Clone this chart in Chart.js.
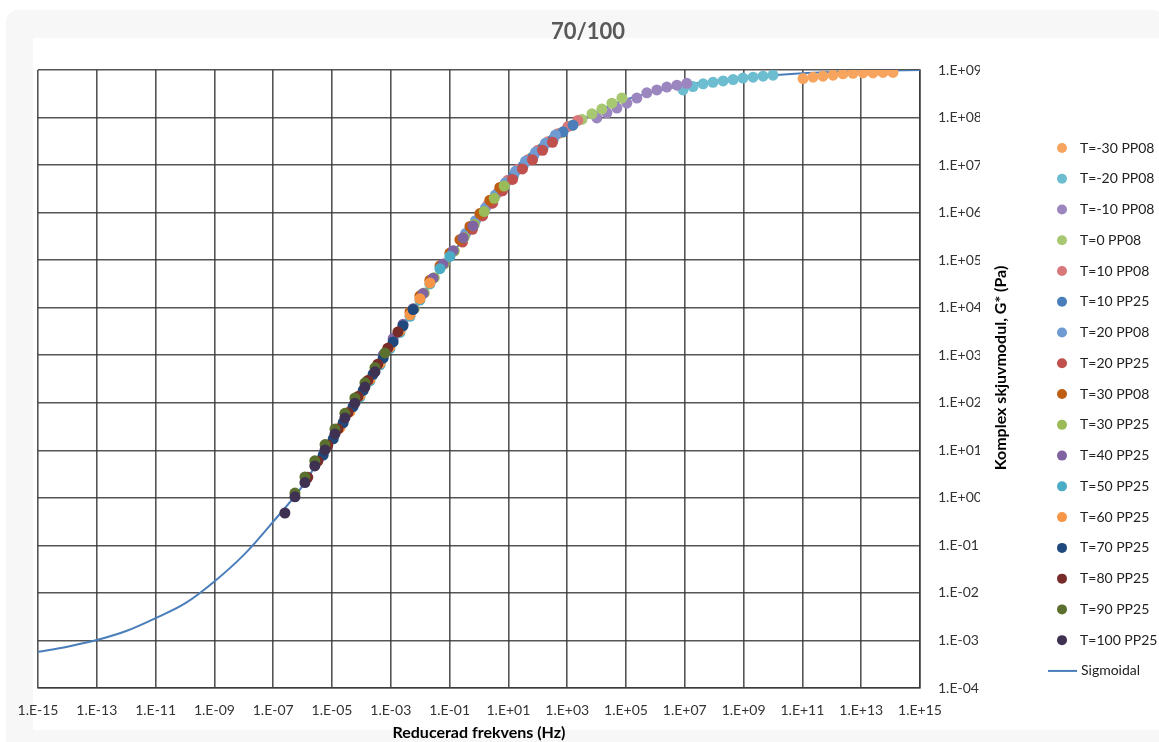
<!DOCTYPE html>
<html>
<head>
<meta charset="utf-8">
<script src="https://cdn.jsdelivr.net/npm/chart.js@4.4.1/dist/chart.umd.min.js"></script>
<style>
html, body { margin: 0; padding: 0; background: #fff; }
#wrap { width: 1159px; height: 742px; }
</style>
</head>
<body>
<div id="wrap"><canvas id="myChart" width="1159" height="742"></canvas></div>
<script>
// Axis ticks (every second decade on x, every decade on y)
var xTicks = [1e-15, 1e-13, 1e-11, 1e-9, 1e-7, 1e-5, 1e-3, 1e-1, 1e1, 1e3, 1e5, 1e7, 1e9, 1e11, 1e13, 1e15];
var xTickLabels = ['1.E-15', '1.E-13', '1.E-11', '1.E-09', '1.E-07', '1.E-05', '1.E-03', '1.E-01',
                   '1.E+01', '1.E+03', '1.E+05', '1.E+07', '1.E+09', '1.E+11', '1.E+13', '1.E+15'];
var yTicks = [1e-4, 1e-3, 1e-2, 1e-1, 1e0, 1e1, 1e2, 1e3, 1e4, 1e5, 1e6, 1e7, 1e8, 1e9];
var yTickLabels = ['1.E-04', '1.E-03', '1.E-02', '1.E-01', '1.E+00', '1.E+01', '1.E+02', '1.E+03',
                   '1.E+04', '1.E+05', '1.E+06', '1.E+07', '1.E+08', '1.E+09'];

// Mätserier: reducerad frekvens (Hz) och |G*| (Pa)
var fM30_08 = [1.05e11, 2.3e11, 5.0e11, 1.1e12, 2.4e12, 5.25e12, 1.15e13, 2.5e13, 5.5e13, 1.2e14];
var gM30_08 = [6.6e8, 7.08e8, 7.41e8, 7.76e8, 8.3e8, 8.5e8, 8.7e8, 8.7e8, 8.9e8, 8.9e8];
var fM20_08 = [8.7e6, 1.9e7, 4.2e7, 9.1e7, 2.0e8, 4.4e8, 9.5e8, 2.1e9, 4.6e9, 1.0e10];
var gM20_08 = [3.8e8, 4.47e8, 5.13e8, 5.5e8, 5.89e8, 6.31e8, 6.76e8, 7.08e8, 7.41e8, 7.76e8];
var fM10_08 = [1.02e4, 2.24e4, 4.9e4, 1.07e5, 2.34e5, 5.1e5, 1.12e6, 2.45e6, 5.4e6, 1.17e7];
var gM10_08 = [9.8e7, 1.26e8, 1.58e8, 2.0e8, 2.57e8, 3.31e8, 3.8e8, 4.37e8, 4.79e8, 5.25e8];
var f0_08 = [63, 138, 302, 661, 1450, 3160, 6920, 15100, 33100, 72400];
var g0_08 = [1.45e7, 2.24e7, 3.31e7, 4.79e7, 6.76e7, 9.12e7, 1.2e8, 1.51e8, 2.0e8, 2.57e8];
var f10_08 = [2.0, 4.4, 9.5, 20.9, 45.7, 100, 219, 479, 1050, 2290];
var g10_08 = [1.45e6, 2.63e6, 4.79e6, 8.13e6, 1.29e7, 2.04e7, 3.09e7, 4.57e7, 6.46e7, 8.71e7];
var f10_25 = [1.38, 3.0, 6.6, 14.5, 31.6, 69, 151, 331, 724, 1580];
var g10_25 = [1.0e6, 1.86e6, 3.31e6, 5.75e6, 9.55e6, 1.48e7, 2.34e7, 3.47e7, 5.0e7, 6.9e7];
var f20_08 = [0.35, 0.76, 1.66, 3.6, 7.9, 17.4, 38, 83, 182, 398];
var g20_08 = [3.63e5, 6.76e5, 1.26e6, 2.34e6, 4.27e6, 7.41e6, 1.2e7, 1.86e7, 2.88e7, 4.27e7];
var f20_25 = [0.275, 0.6, 1.32, 2.9, 6.3, 13.8, 30, 66, 145, 316];
var g20_25 = [2.4e5, 4.47e5, 8.51e5, 1.58e6, 2.88e6, 5.0e6, 8.3e6, 1.29e7, 2.04e7, 3.02e7];
var f30_08 = [4.5e-3, 9.8e-3, 2.14e-2, 4.7e-2, 0.102, 0.224, 0.49, 1.07, 2.34, 5.1];
var g30_08 = [8130, 17800, 38000, 75900, 1.41e5, 2.69e5, 5.13e5, 9.55e5, 1.82e6, 3.39e6];
var f30_25 = [6.3e-3, 1.38e-2, 3.0e-2, 6.6e-2, 0.145, 0.316, 0.69, 1.51, 3.3, 7.2];
var g30_25 = [9550, 20400, 42700, 83200, 1.55e5, 3.02e5, 5.62e5, 1.05e6, 2.0e6, 3.63e6];
var f40_25 = [5.5e-4, 1.2e-3, 2.6e-3, 5.75e-3, 1.26e-2, 2.75e-2, 6.0e-2, 0.132, 0.288, 0.63];
var g40_25 = [1000, 2240, 4470, 9550, 20000, 41700, 83200, 1.58e5, 2.95e5, 5.25e5];
var f50_25 = [8.9e-5, 1.95e-4, 4.3e-4, 9.3e-4, 2.04e-3, 4.5e-3, 9.8e-3, 2.14e-2, 4.7e-2, 0.102];
var g50_25 = [132, 288, 631, 1380, 3020, 6610, 14500, 31600, 66100, 1.2e5];
var f60_25 = [1.86e-5, 4.1e-5, 8.9e-5, 1.95e-4, 4.3e-4, 9.3e-4, 2.04e-3, 4.5e-3, 9.8e-3, 2.14e-2];
var g60_25 = [29.5, 65, 141, 309, 676, 1480, 3240, 7080, 15500, 33100];
var f70_25 = [5.0e-6, 1.1e-5, 2.4e-5, 5.2e-5, 1.15e-4, 2.5e-4, 5.5e-4, 1.2e-3, 2.6e-3, 5.75e-3];
var g70_25 = [7.9, 17.4, 38, 83, 182, 398, 871, 1905, 4170, 9120];
var f80_25 = [1.5e-6, 3.3e-6, 7.2e-6, 1.6e-5, 3.5e-5, 7.6e-5, 1.66e-4, 3.6e-4, 7.9e-4, 1.74e-3];
var g80_25 = [2.7, 5.9, 12.9, 28, 62, 135, 295, 646, 1410, 3090];
var f90_25 = [5.5e-7, 1.2e-6, 2.6e-6, 5.8e-6, 1.26e-5, 2.75e-5, 6.0e-5, 1.32e-4, 2.9e-4, 6.3e-4];
var g90_25 = [1.26, 2.75, 6.0, 13.2, 28, 60, 126, 263, 550, 1120];
var f100_25 = [2.5e-7, 5.5e-7, 1.2e-6, 2.6e-6, 5.8e-6, 1.26e-5, 2.75e-5, 6.0e-5, 1.32e-4, 2.9e-4];
var g100_25 = [0.48, 1.05, 2.1, 4.7, 10.2, 22, 48, 98, 214, 447];

// Anpassad sigmoidal masterkurva
var sigFreq = [1e-15, 1e-14, 1e-13, 1e-12, 1e-11, 1e-10, 1e-9, 1e-8, 1e-7, 1e-6, 1e-5, 1e-4, 1e-3, 1e-2, 1e-1,
               1e0, 1e1, 1e2, 1e3, 1e4, 1e5, 1e6, 1e7, 1e8, 1e9, 1e10, 1e11, 1e12, 1e13, 1e14, 1e15];
var sigG = [5.75e-4, 7.4e-4, 1.02e-3, 1.58e-3, 2.95e-3, 6.0e-3, 1.74e-2, 6.3e-2, 0.316, 1.78, 18.6, 162, 1510,
            15100, 1.15e5, 7.59e5, 4.57e6, 1.86e7, 5.75e7, 1.32e8, 2.4e8, 3.55e8, 4.79e8, 5.89e8, 6.92e8,
            7.76e8, 8.51e8, 9.12e8, 9.55e8, 9.77e8, 1.0e9];

var seriesLabels = ['T=-30 PP08', 'T=-20 PP08', 'T=-10 PP08', 'T=0 PP08', 'T=10 PP08', 'T=10 PP25',
                    'T=20 PP08', 'T=20 PP25', 'T=30 PP08', 'T=30 PP25', 'T=40 PP25', 'T=50 PP25',
                    'T=60 PP25', 'T=70 PP25', 'T=80 PP25', 'T=90 PP25', 'T=100 PP25'];
var seriesColors = ['#f7a55e', '#6cbdd0', '#9c86c0', '#a7c771', '#d9787a', '#4a7ebb',
                    '#6f9bd2', '#c0504d', '#bd5e12', '#9bbb59', '#8064a2', '#4bacc6',
                    '#f79646', '#1f497d', '#772c2a', '#5b6f2e', '#3f3151'];
var seriesFreq = [fM30_08, fM20_08, fM10_08, f0_08, f10_08, f10_25, f20_08, f20_25, f30_08, f30_25,
                  f40_25, f50_25, f60_25, f70_25, f80_25, f90_25, f100_25];
var seriesG = [gM30_08, gM20_08, gM10_08, g0_08, g10_08, g10_25, g20_08, g20_25, g30_08, g30_25,
               g40_25, g50_25, g60_25, g70_25, g80_25, g90_25, g100_25];

function toPoints(xs, ys) {
    return xs.map(function(x, i) { return {x: x, y: ys[i]}; });
}

var datasets = seriesLabels.map(function(lbl, i) {
    return {
        label: lbl,
        data: toPoints(seriesFreq[i], seriesG[i]),
        backgroundColor: seriesColors[i],
        borderColor: seriesColors[i],
        pointRadius: 5.5,
        pointHoverRadius: 6.5,
        pointBorderWidth: 0,
        showLine: false,
        order: seriesLabels.length - i // senare serier ritas överst
    };
});
datasets.push({
    label: 'Sigmoidal',
    data: toPoints(sigFreq, sigG),
    showLine: true,
    borderColor: '#4a7ebb',
    backgroundColor: '#4a7ebb',
    borderWidth: 2,
    pointRadius: 0,
    cubicInterpolationMode: 'monotone',
    order: 100
});

var FONT = 'Lato, "Open Sans", sans-serif';

// Bakgrund, rubrik, y-axelns titel och förklaring
var decor = {
    id: 'decor',
    beforeDraw: function(chart) {
        var c = chart.ctx;
        c.save();
        c.fillStyle = '#ffffff';
        c.fillRect(0, 0, chart.width, chart.height);
        c.fillStyle = '#f7f7f7';
        c.beginPath();
        c.roundRect(6, 10, chart.width, chart.height, 12);
        c.fill();
        c.fillStyle = '#ffffff';
        c.fillRect(33, 38, chart.width - 33, 692);
        c.restore();
    },
    afterDraw: function(chart) {
        var c = chart.ctx;
        c.save();
        c.fillStyle = '#595959';
        c.font = 'bold 22px ' + FONT;
        c.textAlign = 'center';
        c.textBaseline = 'middle';
        c.fillText('70/100', 588, 32);

        c.fillStyle = '#000';
        c.font = 'bold 16px ' + FONT;
        c.translate(1001, 368);
        c.rotate(-Math.PI / 2);
        c.fillText('Komplex skjuvmodul, G* (Pa)', 0, 0);
        c.setTransform(1, 0, 0, 1, 0, 0);

        c.font = '14px ' + FONT;
        c.textAlign = 'left';
        c.fillStyle = '#222';
        chart.data.datasets.forEach(function(ds, i) {
            var y = 148 + i * 30.76;
            if (ds.showLine) {
                c.strokeStyle = ds.borderColor;
                c.lineWidth = 2;
                c.beginPath();
                c.moveTo(1048, y);
                c.lineTo(1077, y);
                c.stroke();
                c.fillText(ds.label, 1081, y);
            } else {
                c.fillStyle = ds.backgroundColor;
                c.beginPath();
                c.arc(1062, y, 5, 0, Math.PI * 2);
                c.fill();
                c.fillStyle = '#222';
                c.fillText(ds.label, 1080, y);
            }
        });
        c.restore();
    }
};

var gridStyle = { color: 'rgba(55,55,55,0.85)', lineWidth: 1.6, drawTicks: false };
var borderStyle = { color: 'rgba(55,55,55,0.85)', width: 1.6 };

var ctx = document.getElementById('myChart').getContext('2d');
var myChart = new Chart(ctx, {
    type: 'scatter',
    data: { datasets: datasets },
    options: {
        responsive: false,
        animation: false,
        devicePixelRatio: 1,
        layout: { padding: { left: 38, top: 70, right: 179, bottom: 0 } },
        plugins: {
            legend: { display: false },
            title: { display: false },
            tooltip: { enabled: true }
        },
        scales: {
            x: {
                type: 'logarithmic',
                position: 'bottom',
                min: 1e-15,
                max: 1e15,
                grid: gridStyle,
                border: borderStyle,
                afterBuildTicks: function(axis) {
                    axis.ticks = xTicks.map(function(v) { return {value: v}; });
                },
                afterFit: function(axis) { axis.height = 54; },
                ticks: {
                    autoSkip: false,
                    maxRotation: 0,
                    padding: 14,
                    color: '#333',
                    font: { family: FONT, size: 14 },
                    callback: function(value, index) { return xTickLabels[index]; }
                },
                title: {
                    display: true,
                    text: 'Reducerad frekvens (Hz)',
                    color: '#000',
                    padding: 0,
                    font: { family: FONT, size: 16, weight: 'bold' }
                }
            },
            y: {
                type: 'logarithmic',
                position: 'right',
                min: 1e-4,
                max: 1e9,
                grid: gridStyle,
                border: borderStyle,
                afterBuildTicks: function(axis) {
                    axis.ticks = yTicks.map(function(v) { return {value: v}; });
                },
                afterFit: function(axis) { axis.width = 60; },
                ticks: {
                    autoSkip: false,
                    padding: 18,
                    color: '#333',
                    font: { family: FONT, size: 14 },
                    callback: function(value, index) { return yTickLabels[index]; }
                }
            }
        }
    },
    plugins: [decor]
});
</script>
</body>
</html>
